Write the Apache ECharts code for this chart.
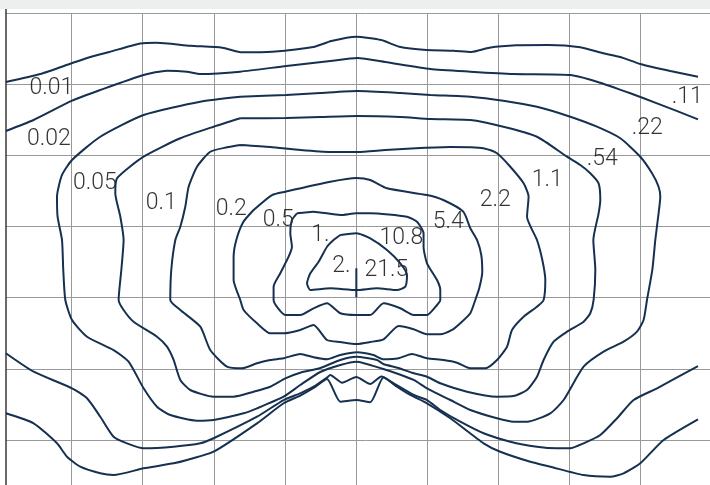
<!DOCTYPE html>
<html><head><meta charset="utf-8">
<script src="https://cdn.jsdelivr.net/npm/echarts@6/dist/echarts.min.js"></script>
<style>
html,body{margin:0;padding:0;background:#edefee;width:710px;height:485px;overflow:hidden;position:relative}
#chart{position:absolute;left:0;top:9px;width:740px;height:540px;background:#fff}
</style></head><body><div id="chart"></div>
<script>
// Contour levels (left scale / right scale)
const levelsLeft = ['0.01','0.02','0.05','0.1','0.2','0.5','1.','2.'];
const levelsRight = ['.11','.22','.54','1.1','2.2','5.4','10.8','21.5'];
// where each level label sits, in chart units
const labelAnchorsLeft = [[7.17,10.51],[6.82,17.68],[13.28,23.87],[22.63,26.68],[32.47,27.52],[39.07,29.07],[44.98,31.18],[47.93,35.54]];
const labelAnchorsRight = [[96.56,11.77],[90.93,16.13],[84.61,20.49],[76.88,23.52],[69.57,26.26],[62.97,29.42],[56.36,31.60],[54.25,36.10]];

// contour lines (x, y in chart units; y measured downward)
const c1Top = [[0.78,9.66],[5.62,8.54],[10.12,6.99],[12.65,6.15],[15.32,5.44],[19.68,4.25],[21.93,4.13],[26.70,4.56],[31.20,4.84],[34.01,5.49],[38.23,5.40],[43.99,4.74],[46.52,3.90],[50.04,3.29],[53.55,3.76],[56.08,4.70],[59.87,5.16],[63.67,5.26],[66.20,5.44],[68.73,4.84],[72.52,4.50],[77.02,4.46],[81.52,4.78],[84.75,5.63],[87.14,6.15],[89.95,7.13],[94.17,8.12],[98.06,8.92]];
const c1Bottom = [[0.78,56.26],[4.68,57.67],[7.97,60.48],[9.37,62.36],[11.24,63.77],[14.05,64.70],[15.92,64.94],[20.14,63.99],[24.36,63.29],[26.24,62.83],[29.98,61.66],[36.08,57.67],[39.82,54.85],[42.16,53.76],[44.03,52.70],[45.92,51.43],[47.79,54.63],[50.04,54.39],[52.00,54.71],[53.87,51.20],[55.75,52.52],[57.62,53.68],[59.97,54.85],[63.25,56.96],[67.93,60.48],[70.27,61.66],[74.49,63.07],[77.30,63.77],[81.98,64.94],[85.73,65.18],[87.60,64.70],[89.95,63.29],[93.23,60.01],[98.06,57.10]];
const c2Top = [[0.78,16.55],[4.68,15.01],[10.08,12.29],[14.05,10.79],[20.14,8.68],[23.43,8.07],[26.24,8.21],[28.11,8.54],[33.73,8.21],[40.20,7.41],[46.38,6.71],[50.18,6.29],[54.11,6.85],[60.44,7.83],[66.06,8.21],[72.10,8.54],[80.11,8.68],[83.86,9.62],[88.55,11.25],[92.30,12.66],[98.06,14.91]];
const c2Bottom = [[0.78,47.82],[4.68,50.41],[10.08,52.74],[12.19,54.15],[14.05,56.74],[15.92,59.55],[17.81,60.48],[20.14,61.18],[24.36,60.96],[28.11,60.48],[29.98,59.77],[36.08,56.74],[39.82,54.39],[42.16,53.45],[44.03,52.52],[45.92,51.22],[46.38,50.87],[48.03,51.95],[50.04,51.15],[52.00,52.14],[53.55,51.08],[55.28,52.04],[58.09,53.68],[59.97,54.39],[61.84,55.79],[64.65,57.44],[67.93,59.07],[71.68,60.25],[75.43,60.96],[78.24,61.18],[80.11,61.18],[81.98,60.48],[84.33,59.31],[86.68,56.96],[89.01,54.39],[92.30,52.74],[98.06,49.61]];
const c3 = [[33.73,11.73],[28.11,12.43],[20.14,14.30],[14.05,17.36],[10.08,20.63],[8.67,22.74],[7.97,25.79],[8.05,28.61],[8.67,31.88],[8.85,36.10],[9.14,40.32],[10.08,43.14],[12.19,45.49],[15.92,47.36],[18.03,49.00],[20.14,52.74],[22.02,55.33],[23.89,56.50],[27.65,57.30],[29.98,57.20],[34.20,56.26],[36.08,55.56],[39.82,53.92],[42.16,52.28],[44.98,50.45],[47.79,49.47],[50.04,49.00],[53.83,50.03],[55.94,50.73],[58.09,51.57],[59.97,52.74],[63.25,54.39],[66.06,55.79],[69.81,56.96],[72.14,57.44],[74.03,57.44],[77.30,56.26],[79.17,54.39],[81.98,49.70],[84.79,47.59],[87.60,46.19],[89.49,44.78],[90.41,43.14],[90.89,40.32],[91.64,36.10],[92.06,31.88],[92.52,28.13],[92.76,25.79],[92.52,24.39],[91.60,22.50],[89.95,20.17],[87.14,17.58],[83.86,15.95],[80.11,14.54],[75.43,13.14],[70.70,12.29],[66.06,11.73],[60.44,11.49],[56.22,11.21],[50.18,10.93],[44.98,11.21],[40.20,11.49],[33.73,11.73]];
const c4 = [[33.73,14.77],[29.98,15.95],[25.30,17.58],[20.14,20.17],[16.40,23.21],[16.16,25.32],[16.87,28.61],[17.33,31.88],[17.01,36.10],[16.63,40.32],[17.33,41.73],[18.73,43.38],[22.02,45.49],[23.43,46.89],[24.36,48.76],[25.30,51.57],[26.70,52.98],[29.98,53.92],[32.79,53.92],[35.60,53.22],[37.95,52.52],[40.06,51.34],[42.16,50.55],[44.98,49.89],[47.79,48.76],[50.04,48.30],[52.94,48.76],[53.83,49.33],[55.94,49.89],[57.86,50.55],[59.97,51.11],[61.84,52.04],[65.59,53.22],[69.81,53.92],[72.14,53.83],[74.03,52.98],[75.43,51.11],[76.36,48.76],[77.77,46.19],[79.65,44.78],[81.98,43.38],[82.92,42.19],[83.39,40.32],[83.63,36.10],[83.35,31.88],[84.09,28.13],[84.33,26.26],[84.09,23.91],[82.92,22.50],[81.52,21.34],[79.65,20.17],[75.43,17.36],[70.70,15.95],[66.06,15.01],[60.44,14.87],[56.22,14.59],[50.18,14.44],[44.98,14.59],[40.20,14.73],[33.73,14.77]];
const c5 = [[33.73,18.52],[31.86,18.85],[29.51,19.47],[27.65,21.58],[26.47,24.39],[26.00,27.20],[25.30,30.01],[24.60,31.88],[24.03,36.10],[23.89,40.32],[25.30,41.73],[28.11,44.08],[29.51,47.36],[31.86,49.70],[33.97,49.93],[36.08,49.23],[37.95,48.76],[39.82,48.52],[42.16,47.92],[44.03,48.38],[45.92,48.66],[47.79,48.06],[50.13,47.68],[52.42,48.06],[53.87,48.66],[55.98,48.52],[57.86,47.92],[59.97,48.52],[62.30,48.76],[64.19,49.14],[66.06,49.93],[68.17,49.93],[69.81,48.76],[71.22,46.89],[71.92,44.54],[73.55,42.67],[75.43,41.27],[76.36,40.32],[76.60,37.51],[76.18,34.70],[75.43,31.88],[74.03,28.61],[74.25,25.79],[73.55,23.91],[71.68,21.58],[69.81,19.69],[67.88,18.99],[66.06,18.85],[63.25,18.80],[59.03,18.95],[54.11,19.23],[50.18,19.51],[46.38,19.51],[42.16,19.23],[37.95,18.80],[33.73,18.52]];
const c6 = [[35.60,27.66],[34.15,29.35],[33.17,31.88],[32.79,34.28],[32.79,37.51],[33.73,40.32],[34.20,41.73],[36.08,43.60],[37.95,45.01],[39.82,45.01],[42.16,44.54],[44.03,43.84],[45.92,45.95],[47.79,46.23],[50.04,46.51],[52.00,46.23],[53.87,45.85],[55.98,43.98],[58.09,44.44],[59.97,45.15],[61.84,45.15],[63.49,44.54],[64.65,43.60],[66.06,42.19],[66.76,40.32],[67.32,38.64],[67.74,36.39],[67.60,33.99],[67.00,31.88],[66.06,30.24],[65.07,27.90],[62.26,26.26],[59.97,25.56],[54.35,24.61],[52.00,23.45],[50.04,23.16],[46.38,23.69],[40.06,25.09],[38.19,25.56],[35.60,27.66]];
const c7 = [[41.70,28.13],[43.99,27.90],[47.79,28.37],[50.04,28.13],[52.00,28.13],[57.16,28.61],[58.57,29.31],[59.49,30.94],[59.49,32.83],[59.97,35.16],[61.38,37.51],[61.84,38.92],[61.84,40.32],[61.38,41.03],[59.97,42.43],[58.09,42.43],[56.22,41.49],[53.87,40.79],[52.00,42.43],[50.04,42.43],[47.79,42.19],[45.92,40.79],[44.03,41.49],[42.16,42.43],[40.06,42.43],[38.41,40.32],[38.41,38.45],[39.35,36.57],[40.52,34.23],[40.99,32.83],[40.76,30.94],[40.99,29.07],[41.70,28.13]];
const c8 = [[47.79,31.18],[50.04,30.94],[52.00,31.65],[54.35,33.29],[56.22,35.16],[57.16,36.81],[56.92,38.45],[55.75,38.92],[52.94,38.68],[50.04,38.92],[46.38,38.68],[43.57,38.92],[43.11,37.97],[43.57,36.57],[44.74,34.94],[45.92,32.83],[46.84,31.88],[47.79,31.18]];
const sourceTick = [[50.04,35.86],[50.04,39.94]];

const contours = [c1Top, c1Bottom, c2Top, c2Bottom, c3, c4, c5, c6, c7, c8, sourceTick];
const LINE = '#163150';

const chart = echarts.init(document.getElementById('chart'), null, {renderer: 'canvas'});
const lineSeries = contours.map(d => ({
  type: 'line', xAxisIndex: 0, yAxisIndex: 0, data: d,
  showSymbol: false, smooth: 0.2, silent: true, animation: false,
  lineStyle: {color: LINE, width: 2}
}));
const labelData = levelsLeft.map((t, i) => ({name: t, value: labelAnchorsLeft[i]}))
  .concat(levelsRight.map((t, i) => ({name: t, value: labelAnchorsRight[i]})));

chart.setOption({
  animation: false,
  backgroundColor: '#ffffff',
  grid: [
    {left: 0.3, top: 4.3, width: 711.5, height: 497.7},
    {left: 5.5, top: 4.3, width: 720, height: 497.7},
    {left: 5.5, top: 0, width: 720, height: 530}
  ],
  xAxis: [
    {gridIndex: 0, type: 'value', min: 0, max: 100, interval: 10,
     axisLine: {show: false}, axisTick: {show: false}, axisLabel: {show: false},
     splitLine: {show: true, showMinLine: false, lineStyle: {color: '#999', width: 1}}},
    {gridIndex: 1, type: 'value', min: 0, max: 100, show: false},
    {gridIndex: 2, type: 'value', min: 0, max: 1, show: false}
  ],
  yAxis: [
    {gridIndex: 0, type: 'value', min: 0, max: 70, inverse: true, show: false},
    {gridIndex: 1, type: 'value', min: 0, max: 70, interval: 10, inverse: true,
     axisLine: {show: false}, axisTick: {show: false}, axisLabel: {show: false},
     splitLine: {show: true, lineStyle: {color: '#999', width: 1}}},
    {gridIndex: 2, type: 'value', min: 0, max: 1,
     axisLine: {show: true, onZero: false, lineStyle: {color: '#3a3a3a', width: 1.5}},
     axisTick: {show: false}, axisLabel: {show: false}, splitLine: {show: false}}
  ],
  series: lineSeries.concat([{
    type: 'scatter', xAxisIndex: 0, yAxisIndex: 0, data: labelData,
    symbolSize: 1, itemStyle: {color: 'transparent'}, silent: true,
    label: {show: true, position: 'inside', formatter: '{b}', fontFamily: 'Roboto',
      fontWeight: 300, fontSize: 23, color: '#000', align: 'center', verticalAlign: 'middle'}
  }])
});
</script></body></html>
